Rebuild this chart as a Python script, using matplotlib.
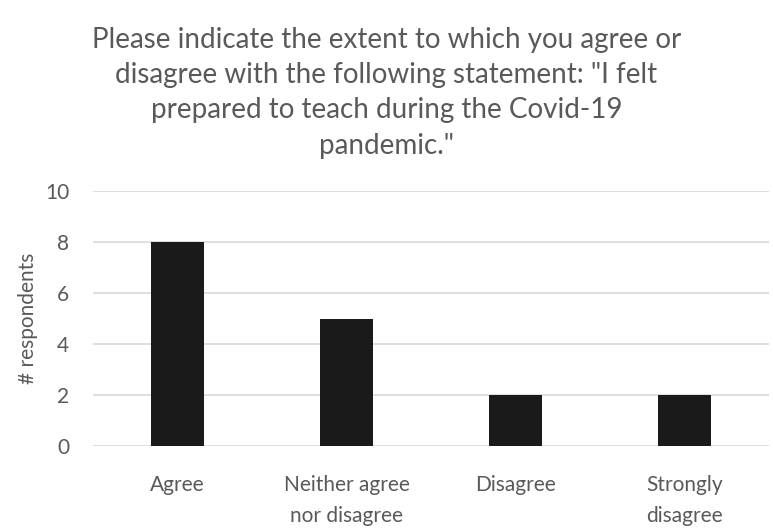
import matplotlib.pyplot as plt

categories = ['Agree', 'Neither agree\nnor disagree', 'Disagree', 'Strongly\ndisagree']
respondents = [8, 5, 2, 2]
yticks = [0, 2, 4, 6, 8, 10]

title = ('Please indicate the extent to which you agree or\n'
         'disagree with the following statement: "I felt\n'
         'prepared to teach during the Covid-19\n'
         'pandemic."')

plt.rcParams['font.family'] = ['Lato', 'DejaVu Sans']
grey = '#595959'

fig = plt.figure(figsize=(7.73, 5.31), dpi=100)
ax = fig.add_axes([0.1203, 0.160, 0.8745, 0.480])

x = range(len(categories))
ax.bar(x, respondents, width=0.31, color='#1a1a1a', zorder=3)

ax.set_xlim(-0.5, len(categories) - 0.5)
ax.set_ylim(0, 10)
ax.set_yticks(yticks)
ax.set_xticks(list(x))
ax.set_xticklabels(categories, fontsize=15, color=grey, linespacing=1.7)
ax.tick_params(axis='y', labelsize=15, labelcolor=grey, length=0, pad=17)
ax.tick_params(axis='x', length=0, pad=21)
ax.grid(axis='y', color='#d9d9d9', linewidth=1.2, zorder=0)
for s in ['top', 'right', 'left', 'bottom']:
    ax.spines[s].set_visible(False)

ax.set_ylabel('# respondents', fontsize=15, color=grey, labelpad=5)
fig.text(0.5, 0.95, title, ha='center', va='top', fontsize=20,
         color=grey, linespacing=1.45)

fig.savefig('out.png', dpi=100)
